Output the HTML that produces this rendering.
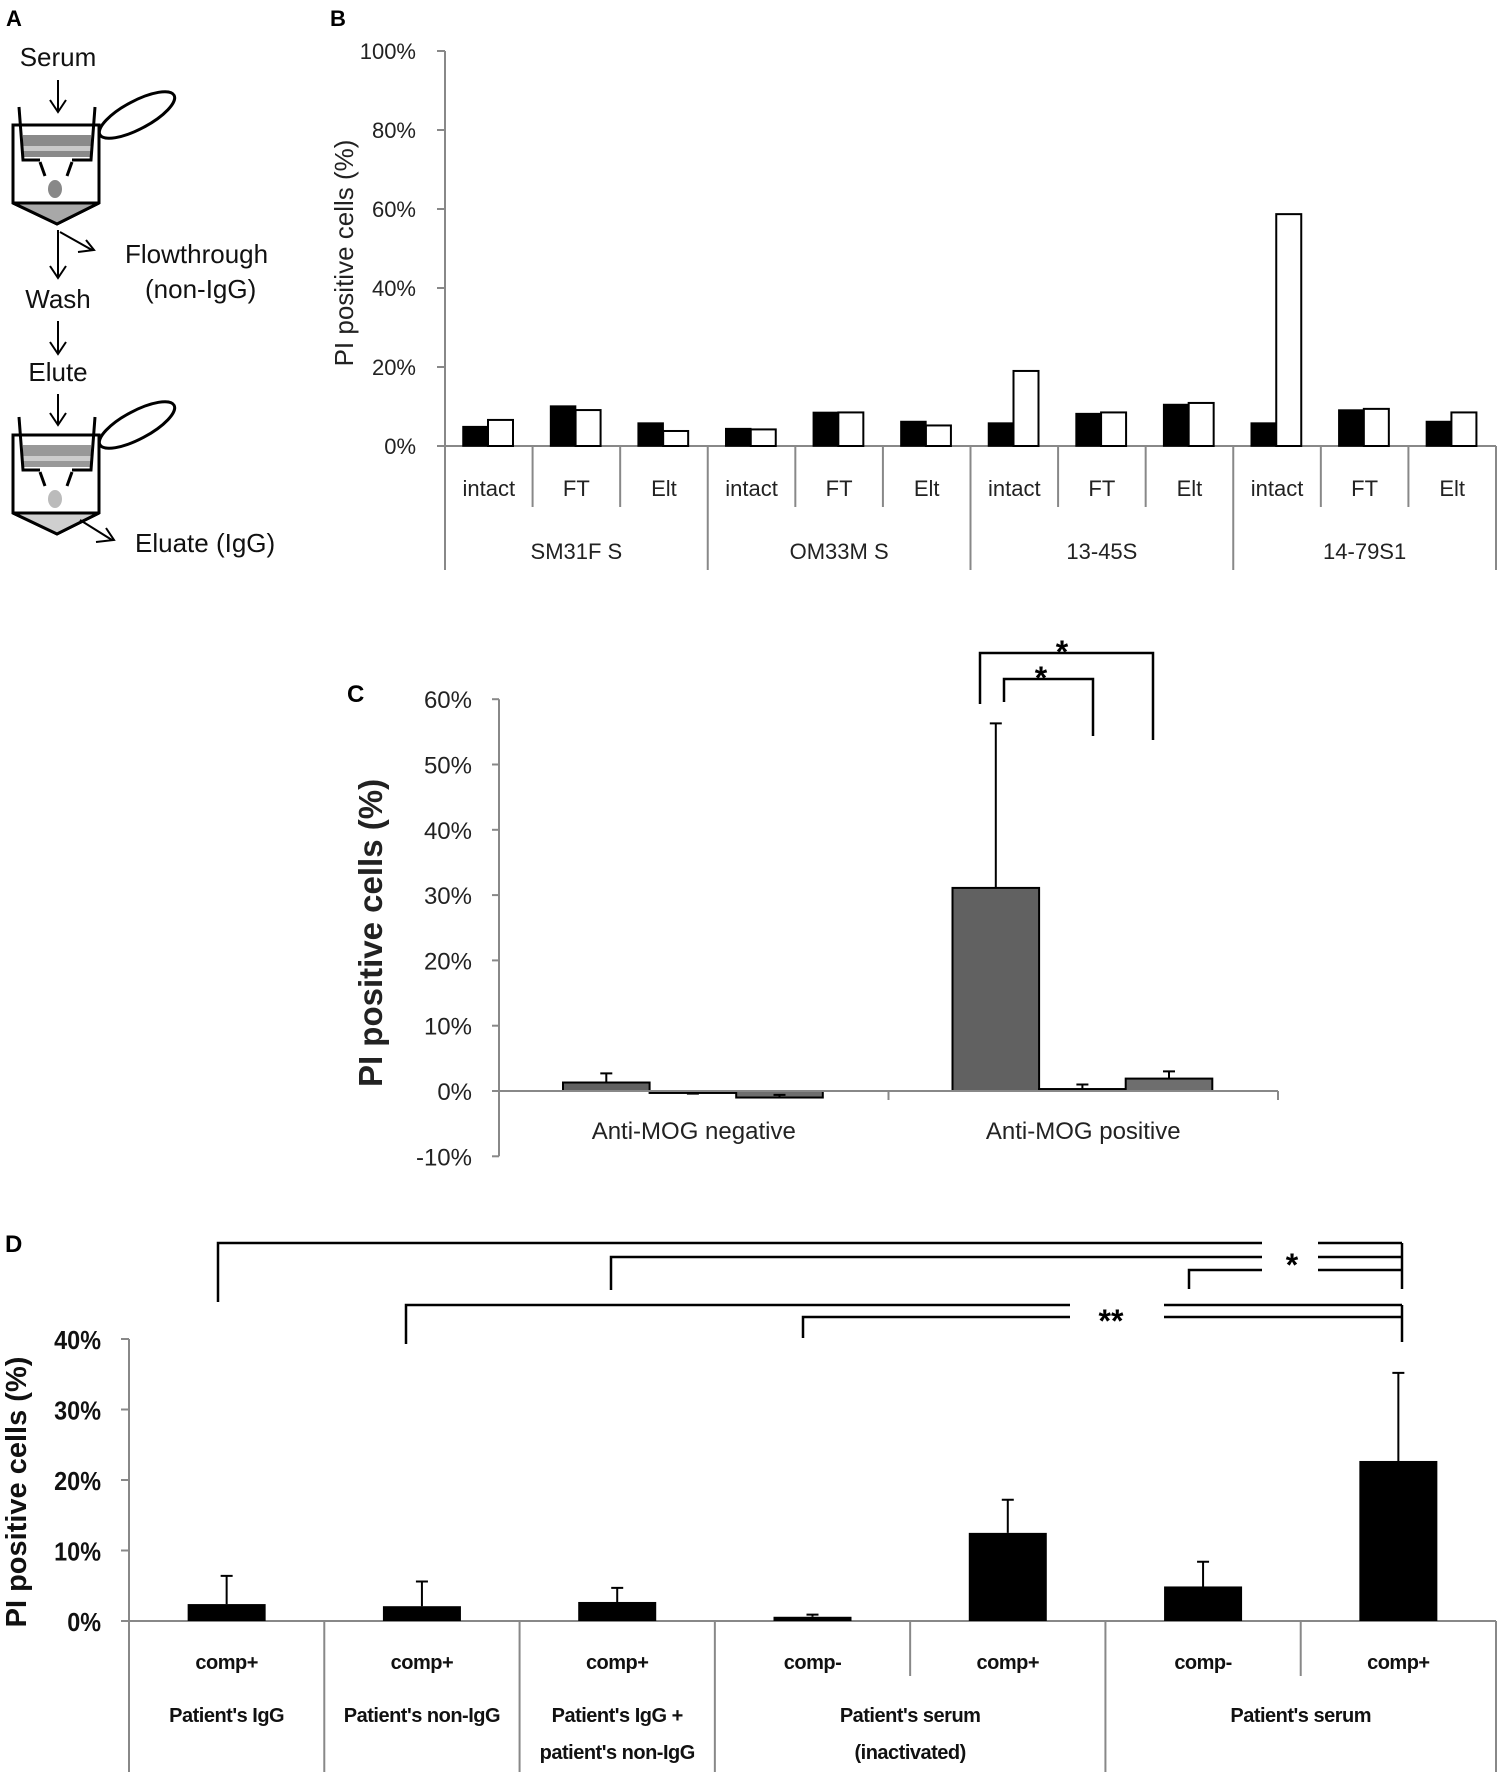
<!DOCTYPE html>
<html><head><meta charset="utf-8"><style>
html,body{margin:0;padding:0;background:#fff;}
svg{display:block;font-family:"Liberation Sans",Arial,sans-serif;}
</style></head><body>
<svg id="fig" width="1499" height="1772" viewBox="0 0 1499 1772" xmlns="http://www.w3.org/2000/svg">
<!-- Panel A -->
<g id="panelA" stroke="#000" fill="none" stroke-width="3">
  <text x="6" y="26" font-size="22" font-weight="bold" stroke="none" fill="#000">A</text>
  <text x="58" y="66" font-size="26" text-anchor="middle" stroke="none" fill="#111">Serum</text>
  <g>
    <path d="M58 80 V110 M50 100 L58 112 L66 100" stroke-width="2"/>
    <path d="M13 125 H99 V203 L57 224 L13 203 Z"/>
    <path d="M13 203 H99 L57 224 Z" fill="#a8a8a8"/>
    <rect x="23" y="135" width="68" height="22" fill="#8a8a8a" stroke="none"/>
    <rect x="23" y="146" width="68" height="5" fill="#c8c8c8" stroke="none"/>
    <path d="M19 107 L23 160 H40 M95 107 L91 160 H72"/>
    <path d="M40 162 L45 176 M72 162 L67 176"/>
    <ellipse cx="55" cy="189" rx="7" ry="9" fill="#888" stroke="none"/>
    <ellipse cx="137" cy="115" rx="42" ry="14" transform="rotate(-28 137 115)"/>
  </g>
  <path d="M58 230 V276 M50 266 L58 278 L66 266" stroke-width="2"/>
  <path d="M60 232 L92 250 M78 252 L94 250 L86 240" stroke-width="2"/>
  <text x="125" y="263" font-size="26" stroke="none" fill="#111">Flowthrough</text>
  <text x="145" y="298" font-size="26" stroke="none" fill="#111">(non-IgG)</text>
  <text x="58" y="308" font-size="26" text-anchor="middle" stroke="none" fill="#111">Wash</text>
  <path d="M58 321 V352 M50 342 L58 354 L66 342" stroke-width="2"/>
  <text x="58" y="381" font-size="26" text-anchor="middle" stroke="none" fill="#111">Elute</text>
  <path d="M58 394 V423 M50 413 L58 425 L66 413" stroke-width="2"/>
  <g transform="translate(0,310)">
    <path d="M13 125 H99 V203 L57 224 L13 203 Z"/>
    <path d="M13 203 H99 L57 224 Z" fill="#cfcfcf"/>
    <rect x="23" y="135" width="68" height="22" fill="#999" stroke="none"/>
    <rect x="23" y="146" width="68" height="5" fill="#ccc" stroke="none"/>
    <path d="M19 107 L23 160 H40 M95 107 L91 160 H72"/>
    <path d="M40 162 L45 176 M72 162 L67 176"/>
    <ellipse cx="55" cy="189" rx="7" ry="9" fill="#bbb" stroke="none"/>
    <ellipse cx="137" cy="115" rx="42" ry="14" transform="rotate(-28 137 115)"/>
  </g>
  <path d="M80 520 L112 540 M96 542 L114 540 L106 528" stroke-width="2"/>
  <text x="135" y="552" font-size="26" stroke="none" fill="#111">Eluate (IgG)</text>
</g>
<g id="panelB"></g>
<g id="panelC"></g>
<g id="panelD"></g>
</svg>
<script>
// ---------- Panel B data ----------
const bGroups = ["SM31F S","OM33M S","13-45S","14-79S1"];
const bSubs = ["intact","FT","Elt"];
const bBlack = [4.9,10.1,5.8, 4.4,8.5,6.2, 5.8,8.2,10.5, 5.8,9.1,6.2];
const bWhite = [6.6,9.1,3.8, 4.2,8.5,5.2, 19.0,8.5,10.9, 58.7,9.4,8.5];
const bTicks = [0,20,40,60,80,100];
// ---------- Panel C data ----------
const cCats = ["Anti-MOG negative","Anti-MOG positive"];
const cVals = [[1.3,-0.3,-1.0],[31.1,0.3,1.9]];
const cErr = [[2.7,-0.4,-0.6],[56.3,1.0,3.0]];
const cTicks = [-10,0,10,20,30,40,50,60];
// ---------- Panel D data ----------
const dSubs = ["comp+","comp+","comp+","comp-","comp+","comp-","comp+"];
const dVals = [2.4,2.1,2.7,0.6,12.5,4.9,22.7];
const dErr = [6.4,5.6,4.7,0.9,17.2,8.4,35.2];
const dGroups = [["Patient's IgG"],["Patient's non-IgG"],["Patient's IgG +","patient's non-IgG"],["Patient's serum","(inactivated)"],["Patient's serum"]];
const dGroupSpan = [1,1,1,2,2];
const dTicks = [0,10,20,30,40];

const NS="http://www.w3.org/2000/svg";
function mk(parent,tag,attrs,text){const e=document.createElementNS(NS,tag);for(const k in attrs)e.setAttribute(k,attrs[k]);if(text!==undefined)e.textContent=text;parent.appendChild(e);return e;}

// ---------- Panel B ----------
(function(){
  const g=document.getElementById('panelB');
  const x0=445,x1=1496,y0=446,ytop=51;
  const yS=v=>y0-(v/100)*(y0-ytop);
  const subW=(x1-x0)/12;
  let t=mk(g,'text',{x:330,y:26,'font-size':22,'font-weight':'bold'},'B');
  
  
  let ax=mk(g,'line',{x1:x0,y1:ytop,x2:x0,y2:570,stroke:'#888','stroke-width':2});
  
  
  bTicks.forEach(v=>{
    const y=yS(v);
    let tk=mk(g,'line',{x1:x0-8,y1:y,x2:x0,y2:y,stroke:'#888','stroke-width':2});
    
    
    let l=mk(g,'text',{x:x0-29,y:y+8,'font-size':22,'text-anchor':'end',fill:'#222'},v+'%');
    
    
  });
  let xa=mk(g,'line',{x1:x0-8,y1:y0,x2:x1,y2:y0,stroke:'#888','stroke-width':2});
  
  
  let yt=mk(g,'text',{x:0,y:0,'font-size':26,'text-anchor':'middle',fill:'#222',transform:'translate(353,253) rotate(-90)'},'PI positive cells (%)');
  
  
  for(let i=0;i<12;i++){
    const sx=x0+i*subW;
    if(i>0){
      const grp=i%3===0;
      let s=mk(g,'line',{x1:sx,y1:y0,x2:sx,y2:grp?570:507,stroke:'#888','stroke-width':2});
      
      
    }
    const bw=25,bx=sx+18;
    let b1=mk(g,'rect',{x:bx,y:yS(bBlack[i]),width:bw,height:y0-yS(bBlack[i]),fill:'#000',stroke:'#000','stroke-width':1.5});
    
    
    let b2=mk(g,'rect',{x:bx+bw,y:yS(bWhite[i]),width:bw,height:y0-yS(bWhite[i]),fill:'#fff',stroke:'#000','stroke-width':2});
    
    
    let l=mk(g,'text',{x:sx+subW/2,y:496,'font-size':22,'text-anchor':'middle',fill:'#222'},bSubs[i%3]);
    
    
  }
  let rb=mk(g,'line',{x1:x1,y1:y0,x2:x1,y2:570,stroke:'#888','stroke-width':2});
  
  
  bGroups.forEach((n,i)=>{
    let l=mk(g,'text',{x:x0+(i*3+1.5)*subW,y:559,'font-size':22,'text-anchor':'middle',fill:'#222'},n);
    
    
  });
})();

// ---------- Panel C ----------
(function(){
  const g=document.getElementById('panelC');
  const x0=499,x1=1278,y0=1091,per10=65.3;
  const yS=v=>y0-v/10*per10;
  let t=mk(g,'text',{x:347,y:702,'font-size':24,'font-weight':'bold'},'C');
  
  
  let ax=mk(g,'line',{x1:x0,y1:yS(60),x2:x0,y2:yS(-10),stroke:'#888','stroke-width':2});
  
  
  cTicks.forEach(v=>{
    const y=yS(v);
    let tk=mk(g,'line',{x1:x0-7,y1:y,x2:x0,y2:y,stroke:'#888','stroke-width':2});
    
    
    let l=mk(g,'text',{x:x0-27,y:y+9,'font-size':24,'text-anchor':'end',fill:'#222'},v+'%');
    
    
  });
  let yt=mk(g,'text',{x:0,y:0,'font-size':33,'font-weight':'bold','text-anchor':'middle',fill:'#222',transform:'translate(382,933) rotate(-90)'},'PI positive cells (%)');
  
  
  const catW=(x1-x0)/2,bw=86.6;
  const fills=['#616161','#616161','#6e6e6e'];
  cCats.forEach((c,ci)=>{
    const cx=x0+ci*catW;
    cVals[ci].forEach((v,j)=>{
      const bx=cx+64+j*bw;
      const top=Math.min(yS(v),y0),h=Math.abs(yS(v)-y0);
      let b=mk(g,'rect',{x:bx,y:top,width:bw,height:Math.max(h,1),fill:fills[j],stroke:'#000','stroke-width':2});
      
      
      const mx=bx+bw/2;
      let e=mk(g,'path',{d:`M${mx} ${yS(v)} V${yS(cErr[ci][j])} M${mx-6} ${yS(cErr[ci][j])} H${mx+6}`,stroke:'#000','stroke-width':2,fill:'none'});
      
      
    });
    let l=mk(g,'text',{x:cx+catW/2,y:1139,'font-size':24,'text-anchor':'middle',fill:'#222'},c);
    
    
  });
  let xa=mk(g,'line',{x1:x0,y1:y0,x2:x1,y2:y0,stroke:'#888','stroke-width':2});
  
  
  let mt=mk(g,'line',{x1:x0+catW,y1:y0,x2:x0+catW,y2:y0+9,stroke:'#888','stroke-width':2});
  
  
  let rt=mk(g,'line',{x1:x1,y1:y0,x2:x1,y2:y0+9,stroke:'#888','stroke-width':2});
  
  
  let s1=mk(g,'path',{d:'M980 704 V653 H1153 V740',stroke:'#000','stroke-width':2.5,fill:'none'});
  
  
  let s2=mk(g,'path',{d:'M1004 702 V679 H1093 V736',stroke:'#000','stroke-width':2.5,fill:'none'});
  
  
  let a1=mk(g,'text',{x:1062,y:663,'font-size':32,'font-weight':'bold','text-anchor':'middle'},'*');
  
  
  let a2=mk(g,'text',{x:1041,y:689,'font-size':32,'font-weight':'bold','text-anchor':'middle'},'*');
  
  
})();

// ---------- Panel D ----------
(function(){
  const g=document.getElementById('panelD');
  const x0=129,x1=1496,y0=1621,per10=70.5;
  const yS=v=>y0-v/10*per10;
  const subW=(x1-x0)/7;
  let t=mk(g,'text',{x:5,y:1252,'font-size':24,'font-weight':'bold'},'D');
  
  
  let ax=mk(g,'line',{x1:x0,y1:yS(40),x2:x0,y2:1772,stroke:'#888','stroke-width':2});
  
  
  dTicks.forEach(v=>{
    const y=yS(v);
    let tk=mk(g,'line',{x1:x0-8,y1:y,x2:x0,y2:y,stroke:'#888','stroke-width':2});
    
    
    let l=mk(g,'text',{x:x0-28,y:y+10,'font-size':26,'font-weight':'bold','text-anchor':'end',fill:'#111',transform:`translate(${x0-28} 0) scale(0.9 1) translate(${-(x0-28)} 0)`},v+'%');
    
    
  });
  let yt=mk(g,'text',{x:0,y:0,'font-size':29,'font-weight':'bold','text-anchor':'middle',fill:'#111',transform:'translate(26,1492) rotate(-90)'},'PI positive cells (%)');
  
  
  let xa=mk(g,'line',{x1:x0-8,y1:y0,x2:x1,y2:y0,stroke:'#888','stroke-width':2});
  
  
  dVals.forEach((v,i)=>{
    const cx=x0+(i+0.5)*subW,bw=78;
    let b=mk(g,'rect',{x:cx-bw/2,y:yS(v),width:bw,height:y0-yS(v),fill:'#000'});
    
    
    let e=mk(g,'path',{d:`M${cx} ${yS(v)} V${yS(dErr[i])} M${cx-6} ${yS(dErr[i])} H${cx+6}`,stroke:'#000','stroke-width':2,fill:'none'});
    
    
    let l=mk(g,'text',{x:cx,y:1669,'font-size':20,'font-weight':'bold','text-anchor':'middle',fill:'#111','letter-spacing':'-0.5'},dSubs[i]);
    
    
  });
  let idx=0;
  dGroups.forEach((lines,gi)=>{
    const span=dGroupSpan[gi];
    const gx=x0+idx*subW,gw=span*subW;
    for(let k=1;k<span;k++){
      let s=mk(g,'line',{x1:gx+k*subW,y1:y0,x2:gx+k*subW,y2:1676,stroke:'#888','stroke-width':2});
      
      
    }
    let s=mk(g,'line',{x1:gx+gw,y1:y0,x2:gx+gw,y2:1772,stroke:'#888','stroke-width':2});
    
    
    lines.forEach((ln,li)=>{
      let l=mk(g,'text',{x:gx+gw/2,y:1722+li*37,'font-size':20,'font-weight':'bold','text-anchor':'middle',fill:'#111','letter-spacing':'-0.5'},ln);
      
      
    });
    idx+=span;
  });
  const br=[
    'M218 1302 V1243 H1262 M1318 1243 H1402',
    'M611 1290 V1257 H1262 M1318 1257 H1402',
    'M1189 1289 V1270 H1262 M1318 1270 H1402',
    'M1402 1243 V1289',
    'M406 1344 V1305 H1070 M1164 1305 H1402',
    'M803 1338 V1317 H1070 M1164 1317 H1402',
    'M1402 1305 V1342'
  ];
  br.forEach(d=>{
    let p=mk(g,'path',{d:d,stroke:'#000','stroke-width':2.5,fill:'none'});
    
    
  });
  let a1=mk(g,'text',{x:1292,y:1276,'font-size':32,'font-weight':'bold','text-anchor':'middle'},'*');
  
  
  let a2=mk(g,'text',{x:1111,y:1332,'font-size':32,'font-weight':'bold','text-anchor':'middle'},'**');
  
  
})();
</script>
</body></html>
